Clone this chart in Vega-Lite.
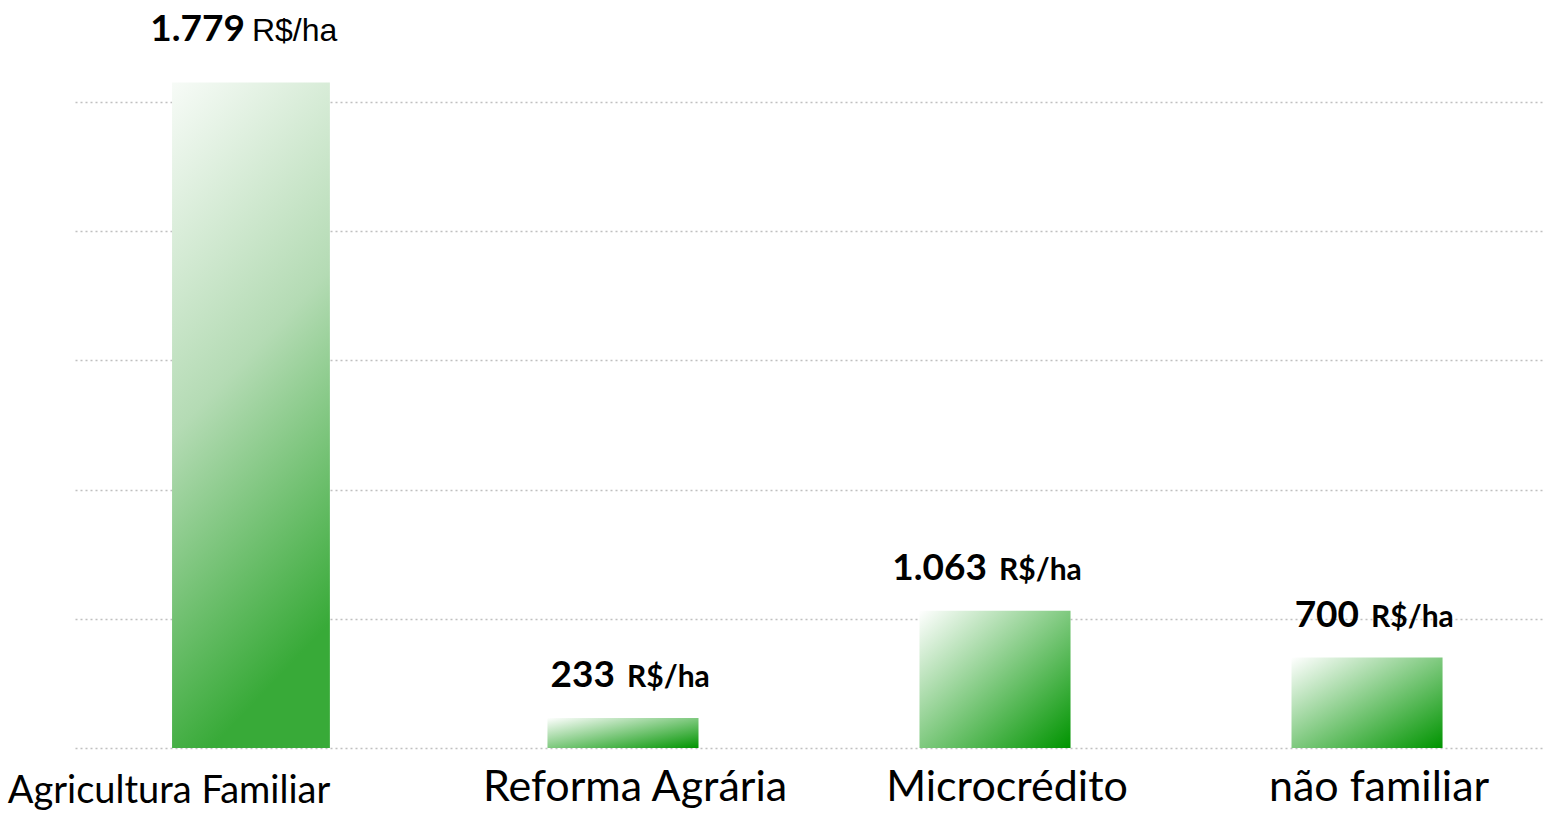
{
  "$schema": "https://vega.github.io/schema/vega-lite/v6.json",
  "width": 1468,
  "height": 646,
  "autosize": {"type": "none"},
  "padding": {"left": 75, "top": 102, "right": 1, "bottom": 65},
  "background": "white",
  "config": {"view": {"stroke": null}},
  "data": {
    "values": [
      {"categoria": "Agricultura Familiar", "valor": 1779, "rotulo": "1.779", "altura": 5150, "unidade": "R$/ha"},
      {"categoria": "Reforma Agrária", "valor": 233, "rotulo": "233", "altura": 233, "unidade": "R$/ha"},
      {"categoria": "Microcrédito", "valor": 1063, "rotulo": "1.063", "altura": 1063, "unidade": "R$/ha"},
      {"categoria": "não familiar", "valor": 700, "rotulo": "700", "altura": 700, "unidade": "R$/ha"}
    ]
  },
  "encoding": {
    "x": {
      "field": "categoria",
      "type": "nominal",
      "sort": null,
      "scale": {"paddingInner": 0.594, "paddingOuter": 0.27},
      "axis": {
        "title": null,
        "labelAngle": 0,
        "labelFont": "Lato",
        "labelFontSize": {"condition": {"test": "datum.value === 'Agricultura Familiar'", "value": 38}, "value": 43},
        "labelColor": "#000000",
        "labelPadding": {"condition": {"test": "datum.value === 'Agricultura Familiar'", "value": 54}, "value": 52},
        "labelBaseline": "alphabetic",
        "labelLimit": 600,
        "labelOverlap": false,
        "ticks": false,
        "tickSize": 0,
        "domain": false,
        "labelOffset": {"condition": {"test": "datum.value === 'Agricultura Familiar'", "value": -82}, "value": 12}
      }
    },
    "y": {
      "field": "altura",
      "type": "quantitative",
      "scale": {"domain": [0, 5000], "nice": false},
      "axis": {
        "title": null,
        "labels": false,
        "ticks": false,
        "domain": false,
        "values": [0, 1000, 2000, 3000, 4000, 5000],
        "grid": true,
        "gridColor": "#c0c0c0",
        "gridDash": [2, 3],
        "gridWidth": 1.5
      }
    }
  },
  "layer": [
    {
      "transform": [{"filter": "datum.categoria === 'Agricultura Familiar'"}],
      "mark": {
        "type": "bar",
        "width": {"band": 1.045},
        "color": {
          "gradient": "linear",
          "x1": 0, "y1": 0, "x2": 0.25, "y2": 1,
          "stops": [
            {"offset": 0, "color": "#f7fbf7"},
            {"offset": 0.5, "color": "#b4dbb4"},
            {"offset": 1, "color": "#38aa38"}
          ]
        }
      }
    },
    {
      "transform": [{"filter": "datum.categoria !== 'Agricultura Familiar'"}],
      "mark": {
        "type": "bar",
        "color": {
          "gradient": "linear",
          "x1": 0, "y1": 0, "x2": 1, "y2": 1,
          "stops": [
            {"offset": 0, "color": "#ffffff"},
            {"offset": 1, "color": "#009400"}
          ]
        }
      }
    },
    {
      "transform": [{"filter": "datum.categoria === 'Agricultura Familiar'"}],
      "mark": {"type": "text", "align": "right", "baseline": "alphabetic", "dx": -6, "dy": -42, "font": "Lato", "fontWeight": "bold", "fontSize": 37, "color": "#000000"},
      "encoding": {"text": {"field": "rotulo"}}
    },
    {
      "transform": [{"filter": "datum.categoria === 'Agricultura Familiar'"}],
      "mark": {"type": "text", "align": "left", "baseline": "alphabetic", "dx": 1, "dy": -42, "font": "Liberation Sans", "fontSize": 32, "color": "#000000"},
      "encoding": {"text": {"field": "unidade"}}
    },
    {
      "transform": [{"filter": "datum.categoria !== 'Agricultura Familiar'"}],
      "mark": {"type": "text", "align": "right", "baseline": "alphabetic", "dx": -8, "dy": -31, "font": "Lato", "fontWeight": "bold", "fontSize": 37, "color": "#000000"},
      "encoding": {"text": {"field": "rotulo"}}
    },
    {
      "transform": [{"filter": "datum.categoria !== 'Agricultura Familiar'"}],
      "mark": {"type": "text", "align": "left", "baseline": "alphabetic", "dx": 4, "dy": -31, "font": "Lato", "fontWeight": "bold", "fontSize": 30, "color": "#000000"},
      "encoding": {"text": {"field": "unidade"}}
    }
  ]
}
